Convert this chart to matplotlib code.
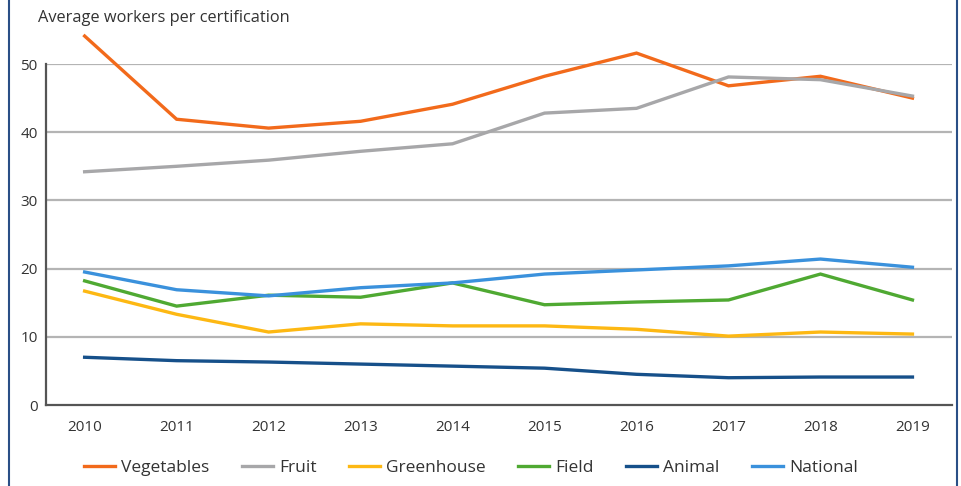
import matplotlib.pyplot as plt
from matplotlib.lines import Line2D

plt.rcParams['font.family'] = ['Open Sans', 'DejaVu Sans']

years = [2010, 2011, 2012, 2013, 2014, 2015, 2016, 2017, 2018, 2019]
vegetables = [54.1, 41.9, 40.6, 41.6, 44.1, 48.2, 51.6, 46.8, 48.2, 45.0]
fruit = [34.2, 35.0, 35.9, 37.2, 38.3, 42.8, 43.5, 48.1, 47.7, 45.3]
greenhouse = [16.7, 13.3, 10.7, 11.9, 11.6, 11.6, 11.1, 10.1, 10.7, 10.4]
field = [18.2, 14.5, 16.1, 15.8, 17.9, 14.7, 15.1, 15.4, 19.2, 15.4]
animal = [7.0, 6.5, 6.3, 6.0, 5.7, 5.4, 4.5, 4.0, 4.1, 4.1]
national = [19.5, 16.9, 16.0, 17.2, 17.9, 19.2, 19.8, 20.4, 21.4, 20.2]

series = [
    ("Vegetables", vegetables, "#f26a1b"),
    ("Fruit", fruit, "#a7a7a9"),
    ("Greenhouse", greenhouse, "#fdb813"),
    ("Field", field, "#4fa932"),
    ("Animal", animal, "#16508a"),
    ("National", national, "#3a91dc"),
]

fig = plt.figure(figsize=(9.61, 4.86), dpi=100)
ax = fig.add_axes([46 / 961, 1 - 405 / 486, (952 - 46) / 961, (405 - 64) / 486])

for y in [10, 20, 30, 40, 50]:
    ax.axhline(y, color="#b4b4b4", lw=1.6, zorder=1)

for name, vals, color in series:
    ax.plot(years, vals, color=color, lw=2.4, label=name, clip_on=False,
            solid_joinstyle="miter", zorder=3)

ax.set_xlim(2009.58, 2019.43)
ax.set_ylim(0, 50)
ax.set_xticks(years)
ax.set_yticks([0, 10, 20, 30, 40, 50])
ax.tick_params(length=0, labelsize=11, labelcolor="#333333", pad=11)
ax.tick_params(axis="y", pad=6)
for s in ["top", "right"]:
    ax.spines[s].set_visible(False)
for s in ["left", "bottom"]:
    ax.spines[s].set_color("#555555")
    ax.spines[s].set_linewidth(1.6)

fig.text(38 / 961, 1 - 18 / 486, "Average workers per certification",
         fontsize=11.8, color="#333333", va="center")

handles = [Line2D([0], [0], color=c, lw=2.4) for _, _, c in series]
fig.legend(handles, [n for n, _, _ in series], loc="center",
           bbox_to_anchor=(0.49, 1 - 468 / 486), ncol=6, frameon=False,
           fontsize=12.5, handlelength=1.8, columnspacing=1.85, handletextpad=0.35,
           labelcolor="#333333")

# side borders of the box
for x in [9 / 961, 957 / 961]:
    fig.add_artist(Line2D([x, x], [0, 1], color="#2a4f86", lw=1.5))

fig.savefig("out.png", dpi=100)
